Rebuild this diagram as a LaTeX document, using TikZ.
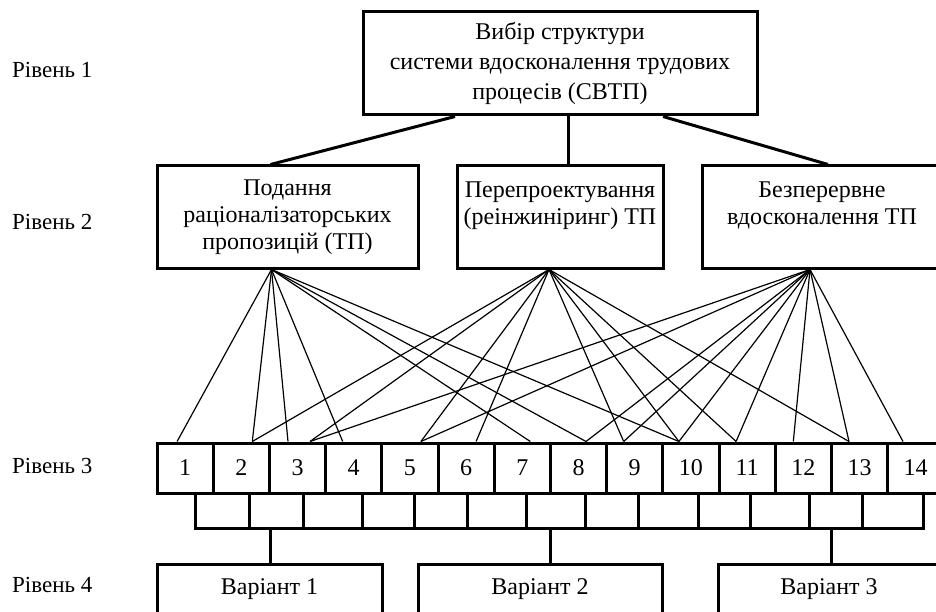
\documentclass[tikz,border=0pt]{standalone}
\usepackage{fontspec}
\setmainfont{Liberation Serif}
\usetikzlibrary{positioning}

\tikzset{blok/.style = {draw, line width=3pt, align=center, inner sep=0pt},
         niz/.style = {execute at begin node=\rule{0pt}{#1}},
         niz/.default = 27pt,
         kom/.style = {blok, minimum width=56.2pt, minimum height=50pt},
         var/.style = {blok, anchor=north, text height=17pt, text depth=40pt, inner ysep=13pt},
         zv/.style = {line width=3pt},
         fan/.style = {line width=1.2pt},
         riven/.style = {anchor=west, inner sep=0pt, font=\fontsize{23}{27}\selectfont}
        }

\begin{document}
\begin{tikzpicture}[x=1pt, y=-1pt, font=\fontsize{24}{27}\selectfont]
  \useasboundingbox (0,0) rectangle (936,612);

  % rivni
  \node[riven] (r1) at (12,70) {Рівень 1};
  \node[riven] (r2) at (12,222) {Рівень 2};
  \node[riven] (r3) at (12,466) {Рівень 3};
  \node[riven] (r4) at (12,585) {Рівень 4};

  \node[blok, niz=23pt, minimum width=394pt, minimum height=103pt, font=\fontsize{24}{30}\selectfont]
    (vybir) at (560,63.5) {Вибір структури\\системи вдосконалення трудових\\процесів (СВТП)};

  \node[blok, niz, minimum width=261pt, minimum height=102pt] (b1) at (287.5,217)
    {Подання\\раціоналізаторських\\пропозицій (ТП)};
  \node[blok, niz=23pt, minimum width=206pt, minimum height=102pt] (b2) at (560,217)
    {Перепроектування\\(реінжиніринг) ТП\\\mbox{}};
  \node[blok, niz=23pt, minimum width=240pt, minimum height=102pt] (b3) at (822,217)
    {Безперервне\\вдосконалення ТП\\\mbox{}};

  \draw[zv] ([xshift=-105pt]vybir.south) -- ([xshift=-17pt]b1.north);
  \draw[zv] ([xshift=8pt]vybir.south) -- ([xshift=8pt]b2.north);
  \draw[zv] ([xshift=103pt]vybir.south) -- ([xshift=6pt]b3.north);

  \foreach \i in {1,...,14}
    \node[kom] (c\i) at ({157+(\i-0.5)*56.2},468) {\i};

  \foreach \c/\s in {1/-8,2/11,3/-9.5,4/-11,7/8,8/7.5,10/-12}
    \draw[fan] ([xshift=-16pt]b1.south) -- ([xshift=\s pt]c\c.north);
  \foreach \c/\s in {2/11,3/12.5,5/11,6/10,9/-11,10/-12,11/-11,13/-10.5}
    \draw[fan] ([xshift=-11pt]b2.south) -- ([xshift=\s pt]c\c.north);
  \foreach \c/\s in {3/12.5,5/11,8/7.5,9/-11,10/-12,11/-11,12/-10,13/-10.5,14/-12.7}
    \draw[fan] ([xshift=-12pt]b3.south) -- ([xshift=\s pt]c\c.north);

  \coordinate (dno) at (195,528);
  \draw[zv] (195,493) -- (dno) -- (923,528) -- (923,493);
  \foreach \x in {249,303,362,414,467,526,585,638,698,750,809,862}
    \draw[zv] (\x,493) -- (\x,528);

  \node[var, minimum width=225pt] (v1) at (269.5,563) {Варіант 1};
  \node[var, minimum width=244pt] (v2) at (540,563) {Варіант 2};
  \node[var, minimum width=222pt] (v3) at (829,563) {Варіант 3};

  \draw[zv] ([xshift=1pt]v1.north) -- ([xshift=1pt]v1.north |- dno);
  \draw[zv] ([xshift=10pt]v2.north) -- ([xshift=10pt]v2.north |- dno);
  \draw[zv] ([xshift=2pt]v3.north) -- ([xshift=2pt]v3.north |- dno);
\end{tikzpicture}
\end{document}
